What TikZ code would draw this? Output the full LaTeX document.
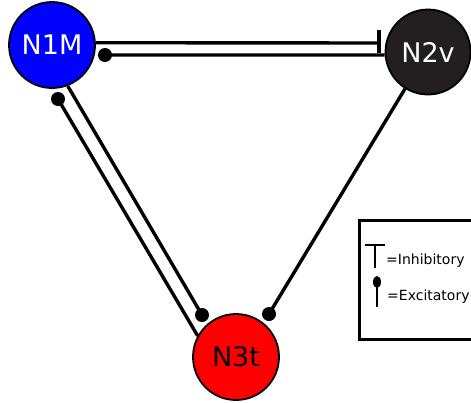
\documentclass[tikz,border=0pt]{standalone}
\usepackage{fontspec}
\usetikzlibrary{shapes.geometric}
\setmainfont{DejaVu Sans}
\definecolor{nblue}{HTML}{0000FF}
\definecolor{nred}{HTML}{FF0000}
\definecolor{ndark}{HTML}{231F20}
\begin{document}
\begin{tikzpicture}[x=1pt,y=-1pt,
  neuron/.style={circle,draw=black,line width=1.8pt,minimum size=86pt,inner sep=0pt,font=\fontsize{27}{30}\selectfont},
  conn/.style={line width=3.4pt},
  dotend/.style={fill=black,circle,inner sep=0pt,minimum size=14pt},
  legtext/.style={anchor=base west,inner sep=0pt,font=\fontsize{14}{16}\selectfont}]
\useasboundingbox (0,0) rectangle (471,402);
\clip (0,0) rectangle (471,402);
\fill[white] (0,0) rectangle (471,402);
% neurons
\node[neuron,fill=nblue,text=white] (N1M) at (52,45) {N1M};
\node[neuron,fill=ndark,text=white,minimum size=85pt] (N2v) at (428,52) {N2v};
\node[neuron,fill=nred,text=black] (N3t) at (236,357) {N3t};
% endpoints
\coordinate (bar1) at (379,43);
\coordinate (bar1a) at (379,30);
\coordinate (bar1b) at (379,53);
\node[dotend] (d12) at (105,55) {};
\node[dotend] (d13) at (202,315) {};
\node[dotend] (d31) at (58,99) {};
\node[dotend] (d23) at (269,314) {};
% connectors
\draw[conn] (N1M.3) -- (bar1);
\draw[conn] (bar1a) -- (bar1b);
\draw[conn] (N2v.184) -- (d12.center);
\draw[conn] (N1M.-69) -- (d13.center);
\draw[conn] (N3t.151) -- (d31.center);
\draw[conn] (N2v.238) -- (d23.center);
% legend
\node[draw=black,line width=3pt,minimum width=130pt,minimum height=119pt,anchor=north west,inner sep=0pt] (legend) at (358,219) {};
\coordinate (ta) at (365,245);
\coordinate (tb) at (385,245);
\coordinate (tc) at (375,245);
\coordinate (td) at (375,268);
\draw[line width=2.5pt] (ta) -- (tb);
\draw[line width=2.5pt] (tc) -- (td);
\node[fill=black,ellipse,inner sep=0pt,minimum width=8pt,minimum height=12pt] (edot) at (377,282) {};
\coordinate (ee) at (377,307);
\draw[line width=2.5pt] (edot.center) -- (ee);
\node[legtext] (linh) at (386,264) {=Inhibitory};
\node[legtext] (lexc) at (387,300) {=Excitatory};
\end{tikzpicture}
\end{document}
